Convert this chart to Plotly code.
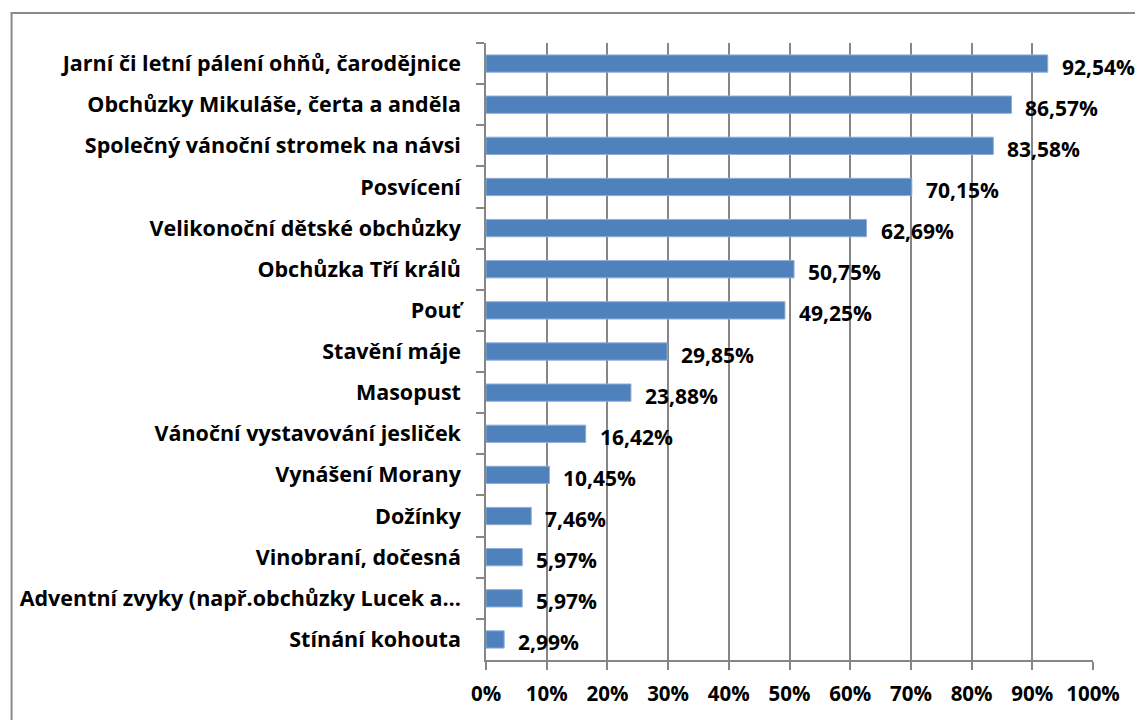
import plotly.graph_objects as go

categories = [
    "Jarní či letní pálení ohňů, čarodějnice",
    "Obchůzky Mikuláše, čerta a anděla",
    "Společný vánoční stromek na návsi",
    "Posvícení",
    "Velikonoční dětské obchůzky",
    "Obchůzka Tří králů",
    "Pouť",
    "Stavění máje",
    "Masopust",
    "Vánoční vystavování jesliček",
    "Vynášení Morany",
    "Dožínky",
    "Vinobraní, dočesná",
    "Adventní zvyky (např.obchůzky Lucek a…",
    "Stínání kohouta",
]
values = [92.54, 86.57, 83.58, 70.15, 62.69, 50.75, 49.25, 29.85, 23.88,
          16.42, 10.45, 7.46, 5.97, 5.97, 2.99]
tick_vals = [0, 10, 20, 30, 40, 50, 60, 70, 80, 90, 100]
tick_text = [f"{v}%" for v in tick_vals]

FONT = "Open Sans"
GRID = "#868686"

fig = go.Figure()
fig.add_trace(go.Bar(
    x=values, y=categories, orientation="h",
    marker=dict(color="#4F81BD", line=dict(color="#8EADD6", width=1)),
    width=0.42,
))

for c, v in zip(categories, values):
    fig.add_annotation(
        x=v, y=c, xref="x", yref="y", text=f"{v:.2f}%".replace(".", ","),
        showarrow=False, xanchor="left", yanchor="middle", xshift=12, yshift=-3,
        font=dict(family=FONT, size=21, color="black", weight="bold"),
    )

# outer chart border
fig.add_shape(type="rect", xref="paper", yref="paper",
              x0=(0 - 476) / 609, x1=1.3, y0=-0.3, y1=(652 - 5) / 617,
              line=dict(color="#8A8A8A", width=2), layer="below")

fig.update_layout(
    width=1143, height=720,
    margin=dict(l=476, r=58, t=35, b=68),
    paper_bgcolor="white", plot_bgcolor="white",
    showlegend=False,
    font=dict(family=FONT, size=21, color="black", weight="bold"),
    xaxis=dict(range=[0, 100], tickvals=tick_vals, ticktext=tick_text,
               showgrid=True, gridcolor=GRID, gridwidth=1.5, zeroline=False,
               showline=True, linecolor=GRID, linewidth=1.5,
               ticks="outside", ticklen=8, tickcolor=GRID, tickwidth=1.5,
               ticklabelstandoff=7,
               tickfont=dict(family=FONT, size=20.5, color="black", weight="bold")),
    yaxis=dict(autorange="reversed", showline=True, linecolor=GRID, linewidth=1.5,
               ticks="outside", ticklen=8, tickcolor=GRID, tickwidth=1.5,
               tickson="boundaries", showgrid=False, ticklabelstandoff=19,
               tickfont=dict(family=FONT, size=21.5, color="black", weight="bold")),
)

fig.write_html("out.html")
